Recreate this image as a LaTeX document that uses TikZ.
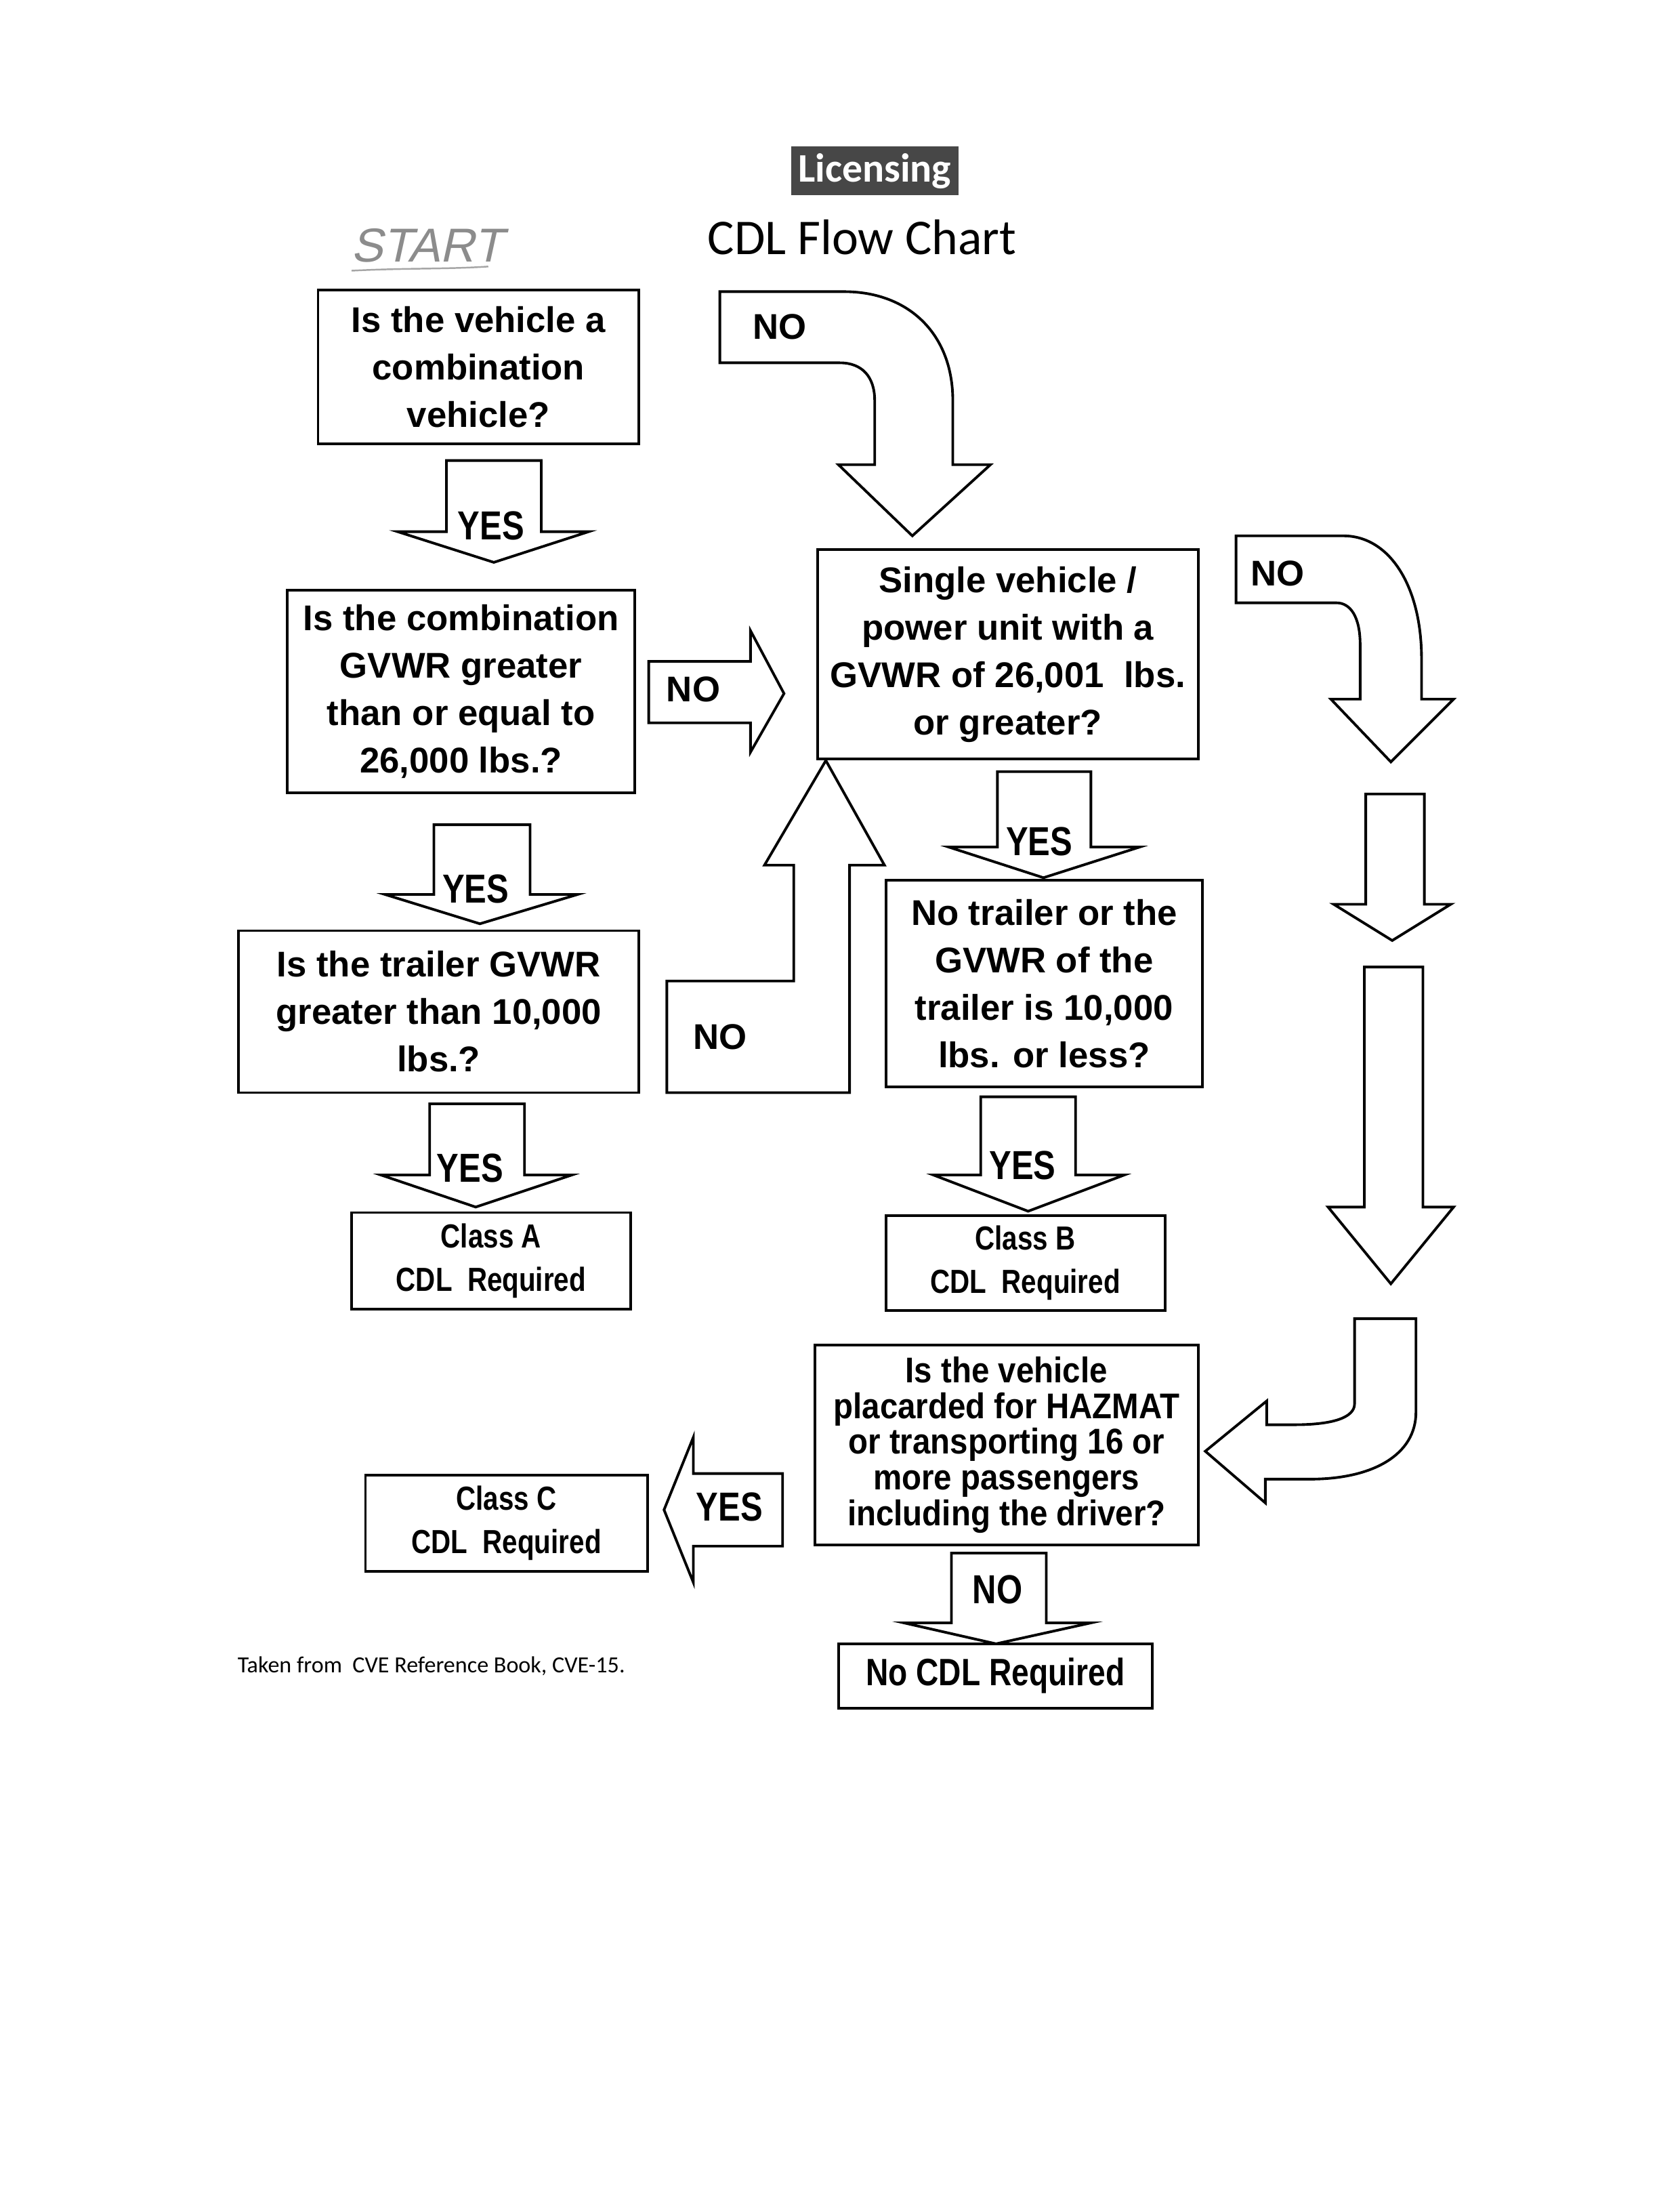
\documentclass[tikz,border=0pt]{standalone}
\usepackage{fontspec}
\setmainfont{Liberation Sans}
\newfontfamily\narrowfont[FakeStretch=0.82]{Liberation Sans}
\newfontfamily\semifont[FakeStretch=0.9]{Liberation Sans}
\newfontfamily\calfont{Carlito}
\newfontfamily\handfont[FakeSlant=0.22]{Liberation Sans}
\tikzset{
  qbox/.style={draw, line width=1.1pt, fill=white, inner sep=0pt, align=center,
    font=\bfseries\fontsize{15}{19.9}\selectfont},
  cbox/.style={draw, line width=1.1pt, fill=white, inner sep=0pt, align=center,
    font=\narrowfont\bfseries\fontsize{14}{18.2}\selectfont},
  hbox/.style={draw, line width=1.1pt, fill=white, inner sep=0pt, align=center,
    font=\semifont\bfseries\fontsize{15}{15}\selectfont},
  blk/.style={draw, line width=1.1pt, fill=white, line join=miter},
  lblw/.style={font=\bfseries\fontsize{15}{18}\selectfont, inner sep=0pt},
  lbln/.style={font=\narrowfont\bfseries\fontsize{17}{18}\selectfont, inner sep=0pt},
}
\begin{document}
\begin{tikzpicture}[x=0.02059cm, y=-0.02059cm]
\fill[white] (0,0) rectangle (1204,1568);
\useasboundingbox (0,0) rectangle (1204,1568);

% title
\node[fill=black!72, text=white, font=\calfont\bfseries\fontsize{17}{18}\selectfont,
  minimum width=2.47cm, minimum height=0.72cm, inner sep=0pt] (lic) at (627,122.5) {Licensing};
\node[font=\calfont\fontsize{21}{24}\selectfont] (title) at (618,170) {CDL Flow Chart};

% handwritten start
\node[font=\handfont\fontsize{20}{22}\selectfont, text=black!45] (start) at (306,176) {START};
\draw[black!35, line width=0.7pt] (252,194) .. controls (290,192) and (320,193) .. (350,191);

% block arrows
\draw[blk] (516,209) -- (605,209) .. controls (652,209) and (683,240) .. (683,287)
  -- (683,333) -- (710,333) -- (654,384) -- (601,333) -- (627,333) -- (627,287)
  .. controls (627,270) and (618,260) .. (602,260) -- (516,260) -- cycle;
\node[lblw] (no1) at (559,234) {NO};

\draw[blk] (320,330) -- (388,330) -- (388,381) -- (422,381) -- (354,403) -- (285,381) -- (320,381) -- cycle;
\node[lbln] (yes1) at (352,377) {YES};

\draw[blk] (465,474) -- (538,474) -- (538,452) -- (562,497) -- (538,539) -- (538,518) -- (465,518) -- cycle;
\node[lblw] (no2) at (497,494) {NO};

\draw[blk] (311,591) -- (380,591) -- (380,641) -- (414,641) -- (344,662) -- (276,641) -- (311,641) -- cycle;
\node[lbln] (yes2) at (341,637) {YES};

\draw[blk] (308,791) -- (376,791) -- (376,842) -- (410,842) -- (341,865) -- (273,842) -- (308,842) -- cycle;
\node[lbln] (yes3) at (337,837) {YES};

\draw[blk] (478,783) -- (609,783) -- (609,620) -- (634,620) -- (592,545) -- (548,620) -- (569,620)
  -- (569,703) -- (478,703) -- cycle;
\node[lblw] (no3) at (516,743) {NO};

\draw[blk] (715,553) -- (782,553) -- (782,607) -- (817,607) -- (748,629) -- (680,607) -- (715,607) -- cycle;
\node[lbln] (yes4) at (745,603) {YES};

\draw[blk] (703,786) -- (771,786) -- (771,842) -- (806,842) -- (737,868) -- (669,842) -- (703,842) -- cycle;
\node[lbln] (yes5) at (733,835) {YES};

\draw[blk] (886,384) -- (963,384) .. controls (996,384) and (1019,420) .. (1019,472)
  -- (1019,501) -- (1042,501) -- (997,546) -- (954,501) -- (975,501) -- (975,462)
  .. controls (975,442) and (968,432) .. (958,432) -- (886,432) -- cycle;
\node[lblw] (no4) at (916,411) {NO};

\draw[blk] (979,569) -- (1021,569) -- (1021,648) -- (1040,648) -- (998,674) -- (956,648) -- (979,648) -- cycle;
\draw[blk] (978,693) -- (1020,693) -- (1020,865) -- (1042,865) -- (997,920) -- (952,865) -- (978,865) -- cycle;

\draw[blk] (971,945) -- (1015,945) -- (1015,1012) .. controls (1015,1042) and (985,1060) .. (939,1060)
  -- (907,1060) -- (907,1077) -- (864,1040) -- (908,1004) -- (908,1021) -- (928,1021)
  .. controls (955,1021) and (971,1016) .. (971,1006) -- cycle;

\draw[blk] (561,1056) -- (561,1108) -- (497,1108) -- (497,1134) -- (476,1082) -- (497,1030) -- (497,1056) -- cycle;
\node[lbln] (yes6) at (523,1080) {YES};

\draw[blk] (682,1113) -- (750,1113) -- (750,1163) -- (782,1163) -- (714,1178) -- (648,1163) -- (682,1163) -- cycle;
\node[lbln] (no5) at (715,1139) {NO};

% boxes
\node[qbox, minimum width=4.736cm, minimum height=2.265cm] (q1) at (343,263)
  {Is the vehicle a\\combination\\vehicle?};
\node[qbox, minimum width=5.127cm, minimum height=2.986cm] (q2) at (330.5,495.5)
  {Is the combination\\GVWR greater\\than or equal to\\26,000 lbs.?};
\node[qbox, minimum width=5.909cm, minimum height=2.388cm] (q3) at (314.5,725)
  {Is the trailer GVWR\\greater than 10,000\\lbs.?};
\node[qbox, minimum width=5.621cm, minimum height=3.089cm] (q4) at (722.5,469)
  {Single vehicle /\\power unit with a\\GVWR of 26,001\ \ lbs.\\or greater?};
\node[qbox, minimum width=4.674cm, minimum height=3.047cm] (q5) at (748.5,705)
  {No trailer or the\\GVWR of the\\trailer is 10,000\\lbs. or less?};
\node[cbox, minimum width=4.118cm, minimum height=1.421cm] (ca) at (352,903.5)
  {Class A\\CDL\ \ Required};
\node[cbox, minimum width=4.118cm, minimum height=1.400cm] (cb) at (735,905)
  {Class B\\CDL\ \ Required};
\node[hbox, minimum width=5.662cm, minimum height=2.944cm] (q6) at (721.5,1035.5)
  {Is the vehicle\\placarded for HAZMAT\\or transporting 16 or\\more passengers\\including the driver?};
\node[cbox, minimum width=4.159cm, minimum height=1.421cm] (cc) at (363,1091.5)
  {Class C\\CDL\ \ Required};
\node[draw, line width=1.1pt, fill=white, inner sep=0pt,
  font=\narrowfont\bfseries\fontsize{16}{18}\selectfont,
  minimum width=4.633cm, minimum height=0.947cm] (nocdl) at (713.5,1201) {No CDL Required};

% source note
\node[anchor=west, font=\calfont\fontsize{9.7}{11}\selectfont, inner sep=0pt] (src) at (170,1194)
  {Taken from\ \ CVE Reference Book, CVE-15.};
\end{tikzpicture}
\end{document}
